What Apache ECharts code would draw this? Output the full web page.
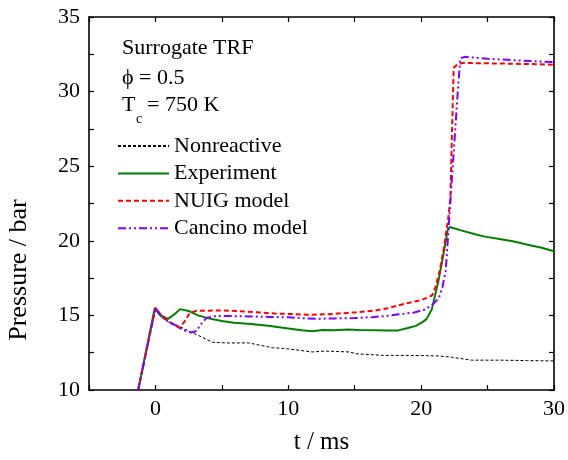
<!DOCTYPE html>
<html>
<head>
<meta charset="utf-8">
<script src="https://cdn.jsdelivr.net/npm/echarts@6/dist/echarts.min.js"></script>
<style>
  html, body { margin: 0; padding: 0; background: #fff; }
  #chart { width: 568px; height: 460px; }
</style>
</head>
<body>
<div id="chart"></div>
<script>
// Time (ms) and pressure (bar) samples for each trace
const tNonreactive = [-1.3, 0, 0.4, 1.0, 1.8, 2.5, 3.1, 4.3, 5.5, 7.0, 7.6, 8.8, 9.6, 10.5, 11.8, 12.8, 14.6, 15.1, 17.1, 18.8, 20.5, 21.3, 22.3, 23.8, 26.0, 28.0, 30.0];
const pNonreactive = [10.0, 15.45, 14.9, 14.55, 14.27, 13.95, 13.71, 13.2, 13.15, 13.16, 13.05, 12.83, 12.79, 12.7, 12.55, 12.61, 12.55, 12.43, 12.32, 12.32, 12.3, 12.28, 12.2, 12.0, 12.0, 11.97, 11.95];

const tExperiment = [-1.3, -0.05, 0.3, 0.95, 1.4, 1.85, 2.5, 3.2, 4.0, 5.0, 5.9, 7.2, 8.5, 10.0, 11.0, 11.8, 12.6, 13.5, 14.5, 15.3, 16.5, 17.5, 18.2, 19.0, 19.6, 20.1, 20.4, 20.8, 21.3, 21.7, 22.0, 22.15, 23.0, 24.0, 24.8, 26.0, 27.0, 28.1, 29.0, 30.0];
const pExperiment = [10.0, 15.5, 15.05, 14.77, 15.05, 15.42, 15.3, 15.0, 14.8, 14.62, 14.5, 14.42, 14.3, 14.12, 14.0, 13.93, 14.02, 14.0, 14.05, 14.02, 14.0, 13.98, 13.98, 14.15, 14.3, 14.55, 14.75, 15.4, 17.3, 19.2, 20.75, 20.92, 20.7, 20.45, 20.28, 20.1, 19.95, 19.72, 19.55, 19.3];

const tNUIG = [-1.3, 0, 0.45, 1.0, 1.8, 2.2, 2.57, 3.07, 4.0, 4.8, 6.0, 7.5, 9.0, 10.0, 11.5, 13.0, 15.0, 16.5, 17.5, 18.3, 19.5, 20.0, 20.5, 20.83, 21.08, 21.4, 21.7, 22.03, 22.2, 22.32, 22.45, 22.7, 23.1, 26.0, 28.0, 30.0];
const pNUIG = [10.0, 15.5, 15.0, 14.6, 14.16, 14.6, 15.15, 15.3, 15.32, 15.33, 15.3, 15.22, 15.12, 15.1, 15.04, 15.08, 15.2, 15.32, 15.48, 15.68, 15.93, 16.03, 16.2, 16.35, 16.9, 18.0, 19.46, 21.45, 22.8, 27.2, 31.6, 31.8, 31.92, 31.88, 31.85, 31.8];

const tCancino = [-1.3, 0, 0.5, 1.0, 1.6, 2.1, 2.7, 3.1, 3.4, 3.83, 4.6, 6.0, 7.0, 8.5, 10.0, 12.0, 13.5, 15.0, 16.5, 17.5, 18.3, 19.5, 20.3, 20.83, 21.33, 21.6, 21.85, 22.05, 22.3, 22.55, 22.78, 22.95, 23.3, 25.0, 27.0, 30.0];
const pCancino = [10.0, 15.5, 14.9, 14.55, 14.3, 14.0, 13.85, 13.95, 14.38, 14.82, 14.97, 14.95, 14.93, 14.9, 14.87, 14.77, 14.8, 14.82, 14.9, 14.97, 15.07, 15.2, 15.4, 15.7, 16.15, 16.9, 18.0, 20.6, 24.0, 27.2, 30.3, 32.24, 32.33, 32.2, 32.1, 31.98];

const seriesNames = ['Nonreactive', 'Experiment', 'NUIG model', 'Cancino model'];

const xRange = [-5, 30];
const yRange = [10, 35];

const zip = (ts, ps) => ts.map((t, i) => [t, ps[i]]);
const FONT = 'Liberation Serif';

const chart = echarts.init(document.getElementById('chart'), null, { renderer: 'canvas' });

const axisLine = { show: true, onZero: false, lineStyle: { color: '#000', width: 1.6 } };
const tickIn = { show: true, inside: true, length: 5, lineStyle: { color: '#000', width: 1.2 } };
const minorIn = { show: true, splitNumber: 2, length: 5, lineStyle: { color: '#000', width: 1.2 } };

const lineSeries = (name, data, color, width, type) => ({
  name,
  type: 'line',
  data,
  symbol: 'none',
  showSymbol: false,
  animation: false,
  clip: true,
  lineStyle: { color, width, type },
  itemStyle: { color }
});

chart.setOption({
  backgroundColor: '#fff',
  animation: false,
  grid: { left: 89, right: 13, top: 17, bottom: 67 },
  xAxis: [
    {
      type: 'value', min: xRange[0], max: xRange[1], interval: 5,
      axisLine, axisTick: tickIn, splitLine: { show: false },
      axisLabel: {
        margin: 8, color: '#000', fontFamily: FONT, fontSize: 22,
        formatter: v => (v % 10 === 0 ? String(v) : '')
      },
      name: 't / ms', nameLocation: 'middle', nameGap: 40,
      nameTextStyle: { color: '#000', fontFamily: FONT, fontSize: 25 }
    },
    {
      type: 'value', position: 'top', min: xRange[0], max: xRange[1], interval: 5,
      axisLine, axisTick: tickIn, axisLabel: { show: false }, splitLine: { show: false }
    }
  ],
  yAxis: [
    {
      type: 'value', min: yRange[0], max: yRange[1], interval: 5,
      axisLine, axisTick: tickIn, minorTick: minorIn, splitLine: { show: false },
      axisLabel: { margin: 9, color: '#000', fontFamily: FONT, fontSize: 22 }
    },
    {
      type: 'value', position: 'right', min: yRange[0], max: yRange[1], interval: 5,
      axisLine, axisTick: tickIn, minorTick: minorIn,
      axisLabel: { show: false }, splitLine: { show: false }
    }
  ],
  legend: {
    orient: 'vertical',
    left: 117, top: 135, padding: 0,
    itemWidth: 51, itemHeight: 14, itemGap: 5.4,
    itemStyle: { opacity: 0 },
    textStyle: { color: '#000', fontFamily: FONT, fontSize: 22, lineHeight: 20 },
    data: seriesNames
  },
  graphic: [
    { type: 'text', x: 122, y: 48, style: { text: 'Surrogate TRF', font: `22px "${FONT}"`, fill: '#000', textVerticalAlign: 'middle' } },
    { type: 'text', x: 122, y: 78, style: { text: 'ϕ = 0.5', font: `22px "${FONT}"`, fill: '#000', textVerticalAlign: 'middle' } },
    { type: 'text', x: 122, y: 105, style: { text: 'T', font: `22px "${FONT}"`, fill: '#000', textVerticalAlign: 'middle' } },
    { type: 'text', x: 136, y: 119, style: { text: 'c', font: `14px "${FONT}"`, fill: '#000', textVerticalAlign: 'middle' } },
    { type: 'text', x: 147, y: 105, style: { text: '= 750 K', font: `22px "${FONT}"`, fill: '#000', textVerticalAlign: 'middle' } },
    { type: 'text', x: 19, y: 270, rotation: Math.PI / 2, style: { text: 'Pressure / bar', font: `26px "${FONT}"`, fill: '#000', textAlign: 'center', textVerticalAlign: 'middle' } }
  ],
  series: [
    lineSeries(seriesNames[0], zip(tNonreactive, pNonreactive), '#000000', 1, [3, 2]),
    lineSeries(seriesNames[1], zip(tExperiment, pExperiment), '#008000', 2, 'solid'),
    lineSeries(seriesNames[2], zip(tNUIG, pNUIG), '#ff0000', 2, [5, 3]),
    lineSeries(seriesNames[3], zip(tCancino, pCancino), '#8000ff', 2, [8, 3, 2, 3, 2, 3])
  ]
});
</script>
</body>
</html>
